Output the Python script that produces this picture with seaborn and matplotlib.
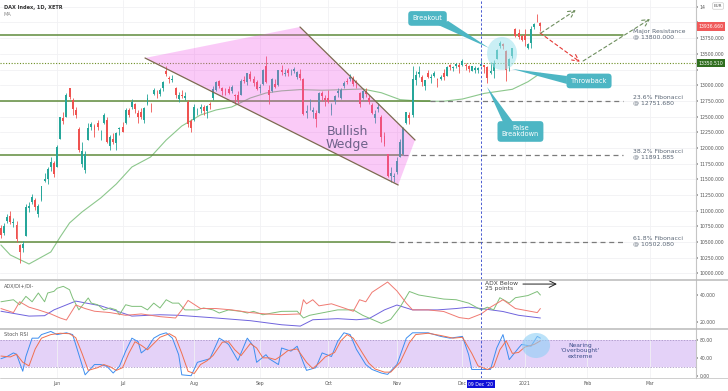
import numpy as np
import pandas as pd
import matplotlib.pyplot as plt
import matplotlib.transforms as mtransforms
from matplotlib.lines import Line2D
from matplotlib.patches import Polygon, Ellipse
import seaborn as sns

sns.set_theme(style="white")
plt.rcParams["font.family"] = ["DejaVu Sans"]

## data: DAX daily candles (XETR), 6 May 2020 .. 11 Jan 2021
holidays = ["2020-06-01", "2020-12-24", "2020-12-25", "2020-12-31", "2021-01-01"]
days = pd.bdate_range("2020-05-06", "2021-01-11")
days = days[~days.isin(pd.to_datetime(holidays))]

opens = [10730, 10650, 10830, 10920, 10800, 10780, 10450, 10410, 10600, 11050, 11140, 11170, 10950, 11170, 11480, 11500, 11700, 11760,
         11700, 12150, 12480, 12500, 12950, 12770, 12600, 12300, 11750, 11650, 12130, 12340, 12350, 12400, 12250, 12400, 12450, 12030, 12150, 12080, 12300,
         12330, 12400, 12600, 12650, 12700, 12560, 12570, 12440, 12700, 12700, 12860, 12880, 12860, 12950, 13220, 13120, 13080, 12950, 12780, 12850, 12800, 12740, 12430,
         12450, 12600, 12620, 12650, 12590, 12700, 12790, 12930, 13070, 12950, 12930, 12940, 12900, 12850, 12850, 12850, 13080, 13050, 13180, 13100, 13050,
         12960, 13020, 13300, 12920, 12900, 13020, 13000, 13250, 13180, 13250, 13210, 13230, 13130, 13180, 13100, 12560, 12640, 12570, 12560, 12560, 12880, 12800,
         12800, 12600, 12750, 12870, 12800, 12980, 13070, 13100, 13120, 13050, 12870, 12800, 12900, 12790, 12680, 12470, 12620, 12500, 12190, 11900, 11560, 11530,
         11620, 11860, 11900, 12400, 12530, 12530, 13080, 13180, 13130, 12990, 13200, 13110, 13150, 13100, 13100, 13200, 13150, 13320, 13280, 13300, 13320,
         13330, 13320, 13310, 13230, 13250, 13240, 13310, 13320, 13290, 13200, 13230, 13420, 13630, 13650, 13540, 13300, 13470, 13900, 13840, 13780,
         13800, 13600, 13680, 13930, 14060, 13990]
highs = [10780, 10810, 10950, 10990, 10880, 10840, 10470, 10520, 11100, 11140, 11260, 11200, 11110, 11400, 11600, 11700, 11850, 11790,
         12050, 12500, 12570, 12870, 12950, 12790, 12660, 12340, 12100, 11950, 12390, 12420, 12380, 12450, 12290, 12550, 12500, 12200, 12240, 12250, 12340,
         12420, 12640, 12640, 12780, 12720, 12600, 12640, 12650, 12860, 12720, 12950, 12920, 12950, 13060, 13310, 13150, 13170, 12970, 12890, 12930, 12890, 12760, 12460,
         12700, 12640, 12700, 12680, 12690, 12730, 12990, 13070, 13090, 12970, 12950, 12980, 13000, 12860, 12900, 13100, 13150, 13200, 13230, 13140, 13090,
         13020, 13260, 13460, 13000, 13120, 13100, 13250, 13330, 13260, 13280, 13260, 13290, 13230, 13260, 13110, 12680, 12780, 12660, 12600, 12890, 12900, 12840,
         12920, 12720, 12850, 12950, 12960, 13060, 13110, 13180, 13150, 13080, 12890, 12930, 12960, 12840, 12720, 12600, 12710, 12520, 12250, 11910, 11700, 11600,
         11860, 12140, 12340, 12580, 12570, 13300, 13230, 13300, 13160, 13090, 13240, 13180, 13230, 13120, 13170, 13260, 13310, 13340, 13300, 13350, 13360,
         13410, 13350, 13330, 13310, 13300, 13290, 13400, 13330, 13300, 13370, 13400, 13580, 13700, 13680, 13560, 13440, 13600, 13910, 13900, 13800,
         13900, 13670, 13950, 13990, 14130, 14010]
lows = [10560, 10620, 10800, 10790, 10740, 10500, 10160, 10340, 10590, 10980, 11110, 11010, 10900, 11150, 11450, 11420, 11640, 11540,
        11690, 12140, 12380, 12490, 12780, 12530, 12480, 11930, 11700, 11600, 12120, 12290, 12180, 12280, 12120, 12380, 12080, 11960, 12060, 11970, 12200,
        12250, 12380, 12500, 12620, 12560, 12400, 12460, 12390, 12690, 12570, 12840, 12800, 12830, 12900, 13150, 13030, 13050, 12790, 12740, 12800, 12770, 12340, 12250,
        12430, 12520, 12560, 12520, 12480, 12620, 12770, 12900, 12960, 12850, 12850, 12860, 12880, 12700, 12720, 12840, 13030, 13000, 13060, 12990, 12930,
        12880, 13000, 13040, 12700, 12890, 12950, 12980, 13170, 13140, 13150, 13160, 13200, 13100, 13080, 12530, 12480, 12600, 12480, 12340, 12550, 12750, 12670,
        12720, 12520, 12700, 12820, 12780, 12950, 13020, 13060, 12980, 12960, 12660, 12780, 12820, 12700, 12540, 12400, 12580, 12100, 12030, 11540, 11460, 11450,
        11580, 11850, 11890, 12380, 12380, 12500, 13010, 13130, 12990, 12930, 13110, 13040, 13130, 12970, 13080, 13080, 13140, 13240, 13230, 13280, 13200,
        13310, 13240, 13210, 13220, 13190, 13200, 13300, 13200, 13040, 13180, 13120, 13410, 13590, 13570, 13060, 13220, 13440, 13770, 13740, 13700,
        13620, 13570, 13600, 13900, 14000, 13860]
closes = [10606, 10759, 10904, 10825, 10819, 10542, 10337, 10465, 11058, 11075, 11223, 11065, 11074, 11391, 11505, 11657, 11781, 11587,
          12021, 12487, 12431, 12848, 12820, 12617, 12530, 11970, 11949, 11911, 12315, 12382, 12281, 12331, 12262, 12523, 12093, 12177, 12089, 12232, 12311,
          12260, 12608, 12528, 12733, 12616, 12494, 12489, 12633, 12800, 12697, 12930, 12874, 12920, 13046, 13171, 13104, 13103, 12838, 12839, 12835, 12822, 12379, 12313,
          12647, 12600, 12660, 12591, 12674, 12687, 12946, 13058, 12993, 12901, 12920, 12881, 12977, 12830, 12765, 13067, 13062, 13190, 13096, 13033, 12945,
          12974, 13243, 13057, 12842, 13100, 12968, 13237, 13209, 13202, 13194, 13218, 13255, 13208, 13116, 12542, 12595, 12643, 12606, 12469, 12871, 12825, 12761,
          12731, 12689, 12828, 12906, 12928, 13042, 13051, 13138, 13018, 13028, 12703, 12908, 12854, 12736, 12558, 12543, 12646, 12177, 12063, 11560, 11598, 11556,
          11788, 12088, 12324, 12568, 12480, 13096, 13163, 13216, 13052, 13076, 13138, 13133, 13201, 13086, 13137, 13127, 13292, 13289, 13286, 13335, 13291,
          13382, 13313, 13252, 13299, 13271, 13278, 13340, 13296, 13114, 13223, 13362, 13565, 13667, 13630, 13246, 13418, 13587, 13790, 13761, 13719,
          13726, 13651, 13892, 13968, 14049, 13937]

# moving average at bar numbers
ma_bars = [0, 3, 9, 16, 19, 22, 26, 32, 37, 42, 48, 53, 58, 64, 69, 74, 80, 85, 90, 96, 103, 110, 116, 122, 128, 135, 142, 148, 155, 164, 169, 173]
ma_vals = [10454, 10295, 10151, 10343, 10582, 10805, 10980, 11203, 11426, 11697, 11856, 12127, 12350, 12526, 12606, 12653, 12797, 12876,
           12910, 12930, 12920, 12930, 12940, 12880, 12770, 12745, 12745, 12780, 12870, 12935, 13055, 13190]

# ADX / DI+ / DI-
dip_bars = [0, 4, 6, 8, 10, 12, 14, 15, 17, 18, 20, 22, 23, 25, 28, 29, 31, 33, 35, 37, 38, 40, 42, 45, 47, 49, 51, 53, 55, 57, 59, 63, 65, 68, 70,
            73, 77, 79, 81, 84, 87, 90, 95, 97, 99, 108, 113, 116, 122, 125, 128, 131, 134, 138, 142, 146, 150, 154, 156, 158, 160, 163, 165, 169, 172, 173]
dip_vals = [35, 36.5, 32.8, 39, 35, 41.5, 35, 41.5, 42.7, 45, 46.4, 43.9, 37.8, 29, 37.8, 34, 32.8, 29, 30.4, 29, 25.4, 32.8, 31.6, 31.6, 29, 34,
            30.4, 36.5, 34, 34, 29, 29, 30.4, 29, 26.7, 29, 27.9, 26.7, 27.9, 25.4, 26.7, 27.9, 28, 23, 25, 29, 29, 25, 19, 22, 31, 42.6, 40, 38.5,
            37, 36.5, 34, 29, 31, 29, 38, 34, 38, 39.6, 42.6, 40]
dim_bars = [0, 4, 6, 9, 12, 16, 19, 21, 24, 27, 30, 35, 40, 45, 51, 56, 58, 60, 64, 69, 74, 80, 85, 90, 96, 97, 98, 100, 102, 106, 110, 113, 115,
            117, 119, 124, 127, 130, 132, 137, 142, 147, 150, 154, 157, 161, 165, 172, 173]
dim_vals = [30, 27, 35, 31, 29, 26, 23, 21.5, 32.6, 30, 28, 27, 25, 26, 24, 23, 29, 36, 30, 30, 29, 27, 26, 25.5, 26, 36.5, 33.5, 36.5, 32, 33.5,
            30.4, 28, 36.5, 35, 42, 49.6, 43, 34, 29, 29, 27.8, 23.3, 22.4, 26, 31, 36.5, 30, 27, 30]
adx_bars = [0, 9, 14, 17, 24, 32, 42, 51, 57, 69, 80, 90, 96, 100, 108, 114, 118, 123, 127, 132, 140, 146, 150, 154, 161, 166, 173]
adx_vals = [28, 24.4, 24.7, 29, 35.5, 32, 24.4, 25.4, 25, 23, 21, 18, 17, 21.7, 22.5, 21.7, 22.5, 29, 32.6, 29, 29, 30, 31, 30, 27.8, 25, 23]

# Stoch RSI %K and %D
k_bars = [0, 2, 4, 5, 7, 8, 10, 12, 13, 16, 18, 21, 23, 25, 27, 30, 32, 34, 36, 38, 40, 42, 44, 45, 47, 49, 51, 53, 55, 57, 58, 61, 63, 65, 67,
          70, 71, 73, 76, 79, 81, 82, 85, 86, 89, 90, 93, 95, 97, 98, 101, 103, 106, 108, 110, 112, 114, 117, 119, 122, 124, 127, 130, 132, 137,
          141, 144, 148, 150, 151, 154, 157, 159, 161, 163, 166, 167, 170, 172, 173]
k_vals = [38, 43, 51, 48, 10, 43, 84, 84, 92, 99, 92, 96, 92, 47, 2, 25, 25, 21, 6, 21, 55, 84, 76, 51, 62, 84, 92, 96, 84, 47, 2, 0, 30, 34, 38,
          84, 80, 70, 34, 84, 66, 30, 47, 38, 25, 62, 55, 66, 29, 12, 18, 51, 43, 77, 96, 92, 59, 25, 14, 6, 3, 25, 84, 96, 96,
          88, 84, 88, 47, 14, 14, 14, 62, 92, 36, 62, 70, 66, 88, 84]
d_bars = [0, 3, 5, 7, 9, 11, 13, 16, 19, 22, 24, 26, 28, 31, 33, 35, 37, 39, 41, 43, 45, 47, 49, 51, 54, 56, 58, 60, 62, 64, 66, 68, 71, 73, 75,
          77, 80, 82, 84, 86, 88, 90, 92, 95, 98, 100, 102, 104, 107, 109, 111, 113, 116, 118, 120, 123, 125, 128, 131, 133, 137, 141, 145, 148,
          151, 153, 156, 158, 160, 162, 164, 166, 168, 171, 173]
d_vals = [44, 42, 48, 30, 22, 60, 84, 92, 95, 94, 85, 50, 12, 18, 25, 20, 12, 18, 50, 76, 68, 58, 72, 86, 94, 86, 50, 10, 5, 25, 33, 45, 75, 76, 58,
          45, 72, 62, 40, 40, 36, 45, 56, 60, 30, 16, 28, 42, 52, 78, 92, 84, 50, 28, 15, 8, 8, 30, 74, 92, 95, 90, 84, 86,
          50, 22, 14, 20, 58, 78, 50, 52, 64, 70, 78]

# horizontal levels
levels = [13800, 12751.68, 11891.885, 10502.08]
level_texts = ["Major Resistance\n@ 13800.000", "23.6% Fibonacci\n@ 12751.680",
               "38.2% Fibonacci\n@ 11891.885", "61.8% Fibonacci\n@ 10502.080"]
level_solid_end = [199.5, 137.6, 129.0, 124.8]
throwback_level = 13350.51
last_price = 13936.66

month_names = ["Jun", "Jul", "Aug", "Sep", "Oct", "Nov", "Dec", "2021", "Feb", "Mar"]

# colours
UP, DOWN = "#26a69a", "#ef5350"
LEVEL = "#5f8b3c"
TEAL = "#4db6c4"
GRID = "#f1f1f4"
TXT = "#5a6675"

## figure layout (three panes like the original screen)
W, H = 728, 391
fig = plt.figure(figsize=(W / 100, H / 100), dpi=100)
fig.patch.set_facecolor("white")
right = 696


def pane(top, bottom):
    return fig.add_axes([0, 1 - bottom / H, right / W, (bottom - top) / H])


ax = pane(0, 279)
ax_adx = pane(280, 328)
ax_st = pane(329, 378)

x = np.arange(len(closes))
all_days = days.append(pd.bdate_range("2021-01-12", "2021-03-31"))
month_key = all_days.to_period("M")
month_pos = [i for i in range(1, len(all_days)) if month_key[i] != month_key[i - 1]]

for a in (ax, ax_adx, ax_st):
    a.set_xlim(-0.3, 222.9)
    a.set_facecolor("white")
    a.set_xticks(month_pos)
    a.grid(True, axis="x", color=GRID, lw=0.6)
    a.yaxis.tick_right()
    a.tick_params(axis="y", labelsize=3.3, length=1.5, pad=1.2, labelcolor="#555555", color="#999999", right=True, left=False)
    a.tick_params(axis="x", length=0)
    for s in ("left", "top", "bottom"):
        a.spines[s].set_visible(False)
    a.spines["right"].set_color("#c5c5c5")
    a.spines["right"].set_linewidth(0.8)
    a.axvline(154, color="#4a5bd1", lw=0.7, ls=(0, (2.5, 2)), zorder=4)

ax.set_xticklabels([])
ax_adx.set_xticklabels([])
ax_st.set_xticklabels(month_names, fontsize=3.3, color="#555555")
ax_st.tick_params(axis="x", pad=2)

## main pane
ax.set_ylim(9912, 14358)
yt = np.arange(10000, 14251, 250)
ax.set_yticks(yt)
# 14000 and 13250 sit under the price flags, 14250 is cut by the currency badge
ylabels = [f"{v:.3f}" for v in yt]
ylabels[-1] = "14"
ylabels[-2] = ""
ylabels[-5] = ""
ax.set_yticklabels(ylabels)
ax.grid(True, axis="y", color=GRID, lw=0.6)

o, h, l, c = map(np.array, (opens, highs, lows, closes))
col = np.where(c >= o, UP, DOWN)
ax.vlines(x, l, h, color=col, lw=0.6, zorder=3)
ax.bar(x, np.abs(c - o), bottom=np.minimum(o, c), width=0.62, color=col, lw=0, zorder=3)

sns.lineplot(x=ma_bars, y=ma_vals, ax=ax, color="#8cc78c", lw=0.8, zorder=2)

for lev, txt, end in zip(levels, level_texts, level_solid_end):
    ax.plot([-0.3, end], [lev, lev], color=LEVEL, lw=1.1, zorder=2)
    if end < 199.5:
        ax.plot([end, 199.5], [lev, lev], color="#7b7b7b", lw=0.9, ls=(0, (4, 3)), zorder=2)
    ax.text(202.7, lev + 90, txt, fontsize=4.4, color=TXT, va="top", ha="left", linespacing=1.05)

ax.axhline(throwback_level, color="#6b8e23", lw=0.8, ls=(0, (1, 1.5)), zorder=2)

# bullish wedge
wedge = Polygon([(46.2, 13434), (95.9, 13928), (132.8, 12127), (127.4, 11410)],
                closed=True, facecolor="#f050e6", alpha=0.3, lw=0, zorder=4)
ax.add_patch(wedge)
ax.plot([46.2, 127.4], [13434, 11410], color="#7d6a50", lw=0.9, zorder=5)
ax.plot([95.9, 132.8], [13928, 12127], color="#7d6a50", lw=0.9, zorder=5)
ax.text(111, 12160, "Bullish\nWedge", fontsize=9, color="#6d6289", ha="center", va="center", linespacing=0.95, zorder=6)

# breakout zone
ax.add_patch(Ellipse((160.7, 13506), 9.6, 526, facecolor="#9fe3ee", alpha=0.55, lw=0, zorder=4))

# scenario arrows
ax.annotate("", xy=(185.7, 13371), xytext=(172.9, 13833),
            arrowprops=dict(arrowstyle="->", color="#e53935", lw=0.8, ls=(0, (3, 2.5)), shrinkA=0, shrinkB=0))
ax.annotate("", xy=(184.4, 14199), xytext=(173.2, 13833),
            arrowprops=dict(arrowstyle="->", color="#6f8f5f", lw=0.8, ls=(0, (3, 2.5)), shrinkA=0, shrinkB=0))
ax.annotate("", xy=(208.2, 14056), xytext=(186.7, 13386),
            arrowprops=dict(arrowstyle="->", color="#6f8f5f", lw=0.8, ls=(0, (3, 2.5)), shrinkA=0, shrinkB=0))

# callouts
callouts = [("Breakout", (136.8, 14064), [(140.2, 13960), (143.4, 14024), (156.5, 13594)]),
            ("Throwback", (188.6, 13068), [(181.5, 13147), (181.5, 13020), (163.9, 13259)]),
            ("False\nBreakdown", (166.6, 12263), [(161.0, 12414), (164.2, 12414), (155.9, 12972)])]
for label, (cx, cy), tri in callouts:
    ax.add_patch(Polygon(tri, closed=True, facecolor=TEAL, lw=0, zorder=7))
    ax.text(cx, cy, label, fontsize=4.8, color="white", ha="center", va="center", zorder=8, linespacing=1.0,
            bbox=dict(boxstyle="round,pad=0.65,rounding_size=0.5", fc=TEAL, ec="none"))

# price labels on the scale
tr = mtransforms.blended_transform_factory(ax.transAxes, ax.transData)
ax.text(1.004, last_price, "13936.660", transform=tr, fontsize=3.3, color="white", va="center", ha="left",
        clip_on=False, zorder=10, bbox=dict(boxstyle="square,pad=0.35", fc="#f05a5a", ec="none"))
ax.text(1.004, throwback_level, "13350.510", transform=tr, fontsize=3.3, color="white", va="center", ha="left",
        clip_on=False, zorder=10, bbox=dict(boxstyle="square,pad=0.35", fc="#2f6e1e", ec="none"))

## ADX pane
ax_adx.set_ylim(15.6, 51.1)
ax_adx.set_yticks([20, 40])
ax_adx.set_yticklabels(["20.000", "40.000"])
sns.lineplot(x=adx_bars, y=adx_vals, ax=ax_adx, color="#6f63dd", lw=0.7)
sns.lineplot(x=dip_bars, y=dip_vals, ax=ax_adx, color="#7fbf7a", lw=0.7)
sns.lineplot(x=dim_bars, y=dim_vals, ax=ax_adx, color="#f07a72", lw=0.7)
ax_adx.text(155.3, 50.4, "ADX Below\n25 points", fontsize=4.3, color="#444444", va="top", ha="left", linespacing=1.05)
ax_adx.annotate("", xy=(178.3, 48.1), xytext=(167.4, 48.1),
                arrowprops=dict(arrowstyle="->", color="#222222", lw=0.7, shrinkA=0, shrinkB=0))

## Stoch RSI pane
ax_st.set_ylim(-5.1, 104.5)
ax_st.set_yticks([0, 40, 80])
ax_st.set_yticklabels(["0.00", "40.00", "80.00"])
ax_st.axhspan(20, 80, color="#dcc3f6", alpha=0.75, lw=0, zorder=0)
for v in (20, 80):
    ax_st.axhline(v, color="#a08bbf", lw=0.5, ls=(0, (2, 2)), zorder=1)
sns.lineplot(x=k_bars, y=k_vals, ax=ax_st, color="#3d8ef0", lw=0.7)
sns.lineplot(x=d_bars, y=d_vals, ax=ax_st, color="#f0704f", lw=0.7)
ax_st.add_patch(Ellipse((171.6, 67.6), 9, 56, facecolor="#8fd0f5", alpha=0.6, lw=0, zorder=4))
ax_st.text(185.7, 55.3, "Nearing\n'Overbought'\nextreme", fontsize=4.3, color="#3e4f8a", ha="center", va="center", linespacing=1.05)

for a in (ax, ax_adx, ax_st):
    a.set_xlabel("")
    a.set_ylabel("")

## frame, legends, labels
for yy in (279.5, 329):
    fig.add_artist(Line2D([0, 1], [1 - yy / H] * 2, color="#b9b9b9", lw=1.1))
fig.add_artist(Line2D([0, 1], [1 - 378 / H] * 2, color="#c8c8c8", lw=0.6))

fig.text(4 / W, 1 - 7 / H, "DAX Index, 1D, XETR", fontsize=3.6, weight="bold", color="#333333", va="center")
fig.text(4 / W, 1 - 15 / H, "MA", fontsize=3.6, color="#888888", va="center")
fig.text(4 / W, 1 - 286 / H, "ADX/DI+/DI-", fontsize=3.6, color="#555555", va="center")
fig.text(4 / W, 1 - 335 / H, "Stoch RSI", fontsize=3.6, color="#555555", va="center")
fig.text(718 / W, 1 - 6 / H, "EUR", fontsize=3, color="#555555", va="center", ha="center",
         bbox=dict(boxstyle="round,pad=0.3", fc="white", ec="#cccccc", lw=0.5))
fig.text(481 / W, 1 - 384 / H, "09 Dec '20", fontsize=3.3, color="white", va="center", ha="center",
         bbox=dict(boxstyle="square,pad=0.35", fc="#1010d8", ec="none"))

plt.savefig("out.png", dpi=100)
plt.close()
